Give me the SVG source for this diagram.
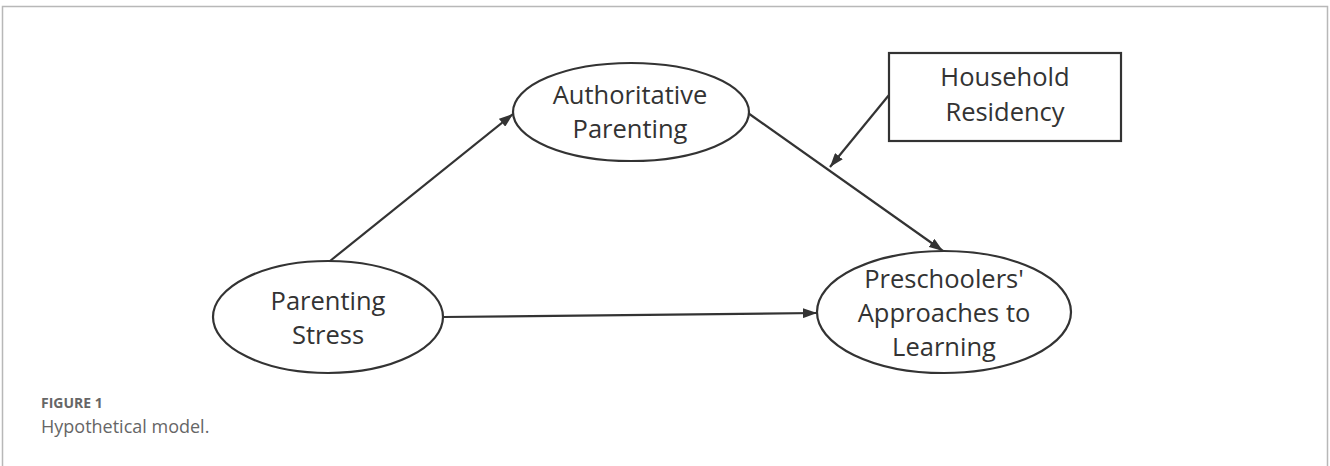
<svg xmlns="http://www.w3.org/2000/svg" width="1330" height="466" viewBox="0 0 1330 466">
<defs>
<style>
.frame{stroke:#b8b8b8;stroke-width:1.5;fill:none}
.node{fill:#fff;stroke:#333;stroke-width:2.2}
.lbl{font-family:"Open Sans","Noto Sans",sans-serif;font-size:25.5px;fill:#333;text-anchor:middle}
.edge{stroke:#333;stroke-width:2.2;fill:none;marker-end:url(#ah)}
.cap1{font-family:"Open Sans","Noto Sans",sans-serif;font-size:14px;font-weight:bold;fill:#666}
.cap2{font-family:"Open Sans","Noto Sans",sans-serif;font-size:18px;fill:#666}
</style>
<marker id="ah" viewBox="0 0 14 10" refX="14" refY="5" markerWidth="14" markerHeight="10" markerUnits="userSpaceOnUse" orient="auto">
<path d="M0,0 L14,5 L0,10 Z" fill="#333"/>
</marker>
</defs>
<rect width="1330" height="466" fill="#fff"/>
<path class="frame" d="M2.5,466 V6.5 H1327.5 V466"/>
<g id="connectors">
<line class="edge" x1="330" y1="261" x2="513" y2="114"/>
<line class="edge" x1="748" y1="113" x2="943" y2="251"/>
<line class="edge" x1="443" y1="317" x2="817" y2="313"/>
<line class="edge" x1="889" y1="95" x2="830" y2="167"/>
</g>
<g id="authoritative">
<ellipse class="node" cx="631" cy="112" rx="118" ry="49"/>
<text class="lbl" x="630" y="104">Authoritative</text>
<text class="lbl" x="630" y="138">Parenting</text>
</g>
<g id="household">
<rect class="node" x="889" y="53" width="232" height="88"/>
<text class="lbl" x="1005" y="86">Household</text>
<text class="lbl" x="1005" y="121">Residency</text>
</g>
<g id="parenting-stress">
<ellipse class="node" cx="328" cy="317" rx="115" ry="56"/>
<text class="lbl" x="328" y="310">Parenting</text>
<text class="lbl" x="328" y="344">Stress</text>
</g>
<g id="preschoolers">
<ellipse class="node" cx="944" cy="312" rx="127" ry="61"/>
<text class="lbl" x="944" y="288">Preschoolers'</text>
<text class="lbl" x="944" y="322">Approaches to</text>
<text class="lbl" x="944" y="356">Learning</text>
</g>
<g id="caption">
<text class="cap1" x="41" y="408">FIGURE 1</text>
<text class="cap2" x="41" y="433">Hypothetical model.</text>
</g>
</svg>
